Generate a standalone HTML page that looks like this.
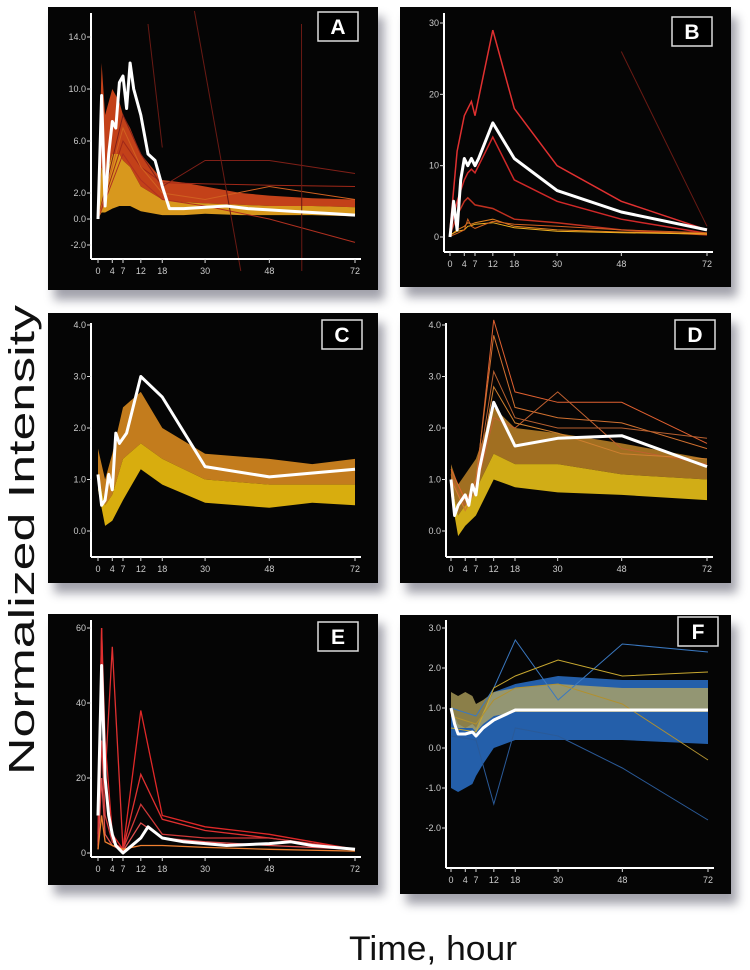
<!DOCTYPE html>
<html><head><meta charset="utf-8"><style>
html,body{margin:0;padding:0;background:#fff;}
svg{display:block;font-family:"Liberation Sans",sans-serif;}
</style></head><body>
<svg id="fig" width="750" height="970" viewBox="0 0 750 970">
<defs>
<filter id="sh" x="-10%" y="-10%" width="130%" height="130%"><feGaussianBlur stdDeviation="5"/></filter>
</defs>
<text x="0" y="0" transform="translate(34,540) rotate(-90)" text-anchor="middle" font-size="36" textLength="470" lengthAdjust="spacingAndGlyphs" fill="#111">Normalized Intensity</text>
<text x="433" y="960" text-anchor="middle" font-size="34" textLength="168" lengthAdjust="spacingAndGlyphs" fill="#111">Time, hour</text>
</svg>
<script>
// ---- shared ----
const tickTimes = [0,4,7,12,18,30,48,72];
// ---- Panel A data ----
const aTicks = [14,10,6,2,0,-2];
const aTickLabels = ["14.0","10.0","6.0","2.0","0.0","-2.0"];
const aBandT = [0,1,2,4,6,7,9,12,18,24,30,40,48,60,72];
const aUpper = [1,12,8,10,9,8,7,5,3,2.8,2.5,2,1.8,1.6,1.5];
const aMid = [0.5,4,3,5,5,4.5,4,2.5,1.5,1.3,1.2,1.1,1,1,0.9];
const aLower = [0,0.5,0.5,0.8,1,1,1,0.6,0.3,0.3,0.4,0.3,0.3,0.3,0.2];
const aMeanT = [0,1,2,3,4,5,6,7,8,9,10,12,14,16,18,20,24,30,36,42,48,54,60,66,72];
const aMean = [0,9.5,1,5,7.5,7,10.5,11,8.5,12,10,8,5,4.5,2.5,0.8,0.8,0.9,1.0,0.8,0.7,0.6,0.5,0.4,0.3];
const aLineT = [0,7,12,18,30,48,72];
const aLine1 = [0,6,4,2.8,2.7,2.6,2.5];
const aLine2 = [0,8,5,2.5,4.5,4.5,3.5];
const aLine3 = [0,5,3,1.5,1,0,-1.8];
const aLine4 = [0,7,4,2,1.5,2.5,1.5];
const aStrayT = [14,18];
const aStray1 = [15,5.5];
const aStrayT2 = [27,40];
const aStray2 = [16,-4];
const aStrayT3 = [57,57.1];
const aStray3 = [15,-4];
// ---- Panel B data ----
const bTicks = [30,20,10,0];
const bTickLabels = ["30","20","10","0"];
const bMeanT = [0,1,2,3,4,5,6,7,8,12,18,30,48,72];
const bMean = [0,5,1,8,11,10,11,10,11,16,11,6.5,3.5,1];
const bLineT = [0,2,4,5,6,7,12,18,30,48,72];
const bLine1 = [1,12,17,18,19,17,29,18,10,5,1];
const bLine2 = [0.5,5,8,9,9.5,9,14,8,5,2.5,0.5];
const bLine3 = [0.3,3,5,5.5,5,4.5,4,2.5,2,1,0.3];
const bLine4 = [0.2,1,1.5,2,1.8,2,2.5,1.5,1,0.7,0.5];
const bLine5 = [0.3,0.8,1,1.5,1.6,1.8,2,1.3,0.8,0.6,0.4];
const bLine6 = [0.1,0.5,1,2.5,1.5,1.2,2.2,1.8,1.5,1,0.6];
const bStrayT = [48,72];
const bStray = [26,1.5];
// ---- Panel C data ----
const cTicks = [4,3,2,1,0];
const cTickLabels = ["4.0","3.0","2.0","1.0","0.0"];
const cBandT = [0,2,4,7,12,18,30,48,60,72];
const cUpper = [1.6,1.0,1.5,2.4,2.7,2.0,1.5,1.4,1.3,1.4];
const cMid = [1.1,0.5,0.7,1.4,1.7,1.4,1.0,0.9,0.9,0.9];
const cLower = [0.8,0.1,0.2,0.6,1.2,0.9,0.55,0.45,0.55,0.5];
const cMeanT = [0,1,2,3,4,5,6,7,8,12,18,30,48,72];
const cMean = [1.1,0.5,0.6,1.1,0.8,1.9,1.7,1.8,1.9,3.0,2.6,1.25,1.05,1.2];
// ---- Panel D data ----
const dBandT = [0,2,4,7,12,18,30,48,72];
const dUpper = [1.3,0.9,1.1,1.4,2.4,2.0,1.9,1.7,1.4];
const dMid = [1.0,0.3,0.5,0.8,1.5,1.3,1.3,1.1,1.0];
const dLower = [0.7,-0.1,0.1,0.3,1.0,0.85,0.75,0.7,0.6];
const dMeanT = [0,1,2,4,5,6,7,8,12,18,30,48,72];
const dMean = [1,0.3,0.5,0.7,0.5,0.9,0.7,1.2,2.5,1.65,1.8,1.85,1.25];
const dLineT = [0,4,7,12,18,30,48,72];
const dLine1 = [1.2,0.6,0.9,4.1,2.7,2.5,2.5,1.7];
const dLine2 = [1.0,0.5,1.0,3.8,2.4,2.2,2.1,1.6];
const dLine3 = [1.1,0.4,0.8,2.2,2.0,2.7,1.6,1.3];
const dLine4 = [1.0,0.5,0.9,3.1,2.2,2.0,2.0,1.8];
const dLine5 = [1.0,0.4,0.8,2.8,2.1,1.9,1.5,1.4];
// ---- Panel E data ----
const eTicks = [60,40,20,0];
const eTickLabels = ["60","40","20","0"];
const eMeanT = [0,1,2,3,4,5,6,7,12,14,18,24,30,36,48,54,60,66,72];
const eMean = [10,50,20,10,5,2,1,0,4,7,4,3,2.5,2,2.5,3,2,1.5,1];
const eLineT = [0,1,2,4,7,12,18,30,48,72];
const eLine1 = [5,60,30,5,1,38,10,7,5,1];
const eLine2 = [3,60,20,55,1,21,9,6,4,1];
const eLine3 = [2,30,10,3,1,13,5,4,4,1];
const eLine4 = [1,20,5,2,0.5,8,4,3,2,1];
const eLine5 = [1,10,3,2,1,2,2,1.5,1,0.5];
// ---- Panel F data ----
const fTicks = [3,2,1,0,-1,-2];
const fTickLabels = ["3.0","2.0","1.0","0.0","-1.0","-2.0"];
const fBandT = [0,2,4,6,7,9,12,18,30,48,72];
const fYelUpper = [1.4,1.3,1.4,1.3,1.1,1.2,1.4,1.5,1.6,1.5,1.5];
const fYelLower = [0.8,0.5,0.5,0.5,0.4,0.6,0.8,0.9,0.9,0.9,0.9];
const fBlueUpper = [1.0,0.6,0.5,0.6,0.5,0.9,1.4,1.6,1.8,1.7,1.7];
const fBlueLower = [-1.0,-1.1,-1.0,-0.9,-0.7,-0.4,0.0,0.2,0.2,0.2,0.1];
const fMeanT = [0,1,2,4,6,7,9,12,18,30,48,72];
const fMean = [1,0.6,0.35,0.35,0.4,0.3,0.5,0.7,0.95,0.95,0.95,0.95];
const fLineT = [0,7,12,18,30,48,72];
const fLine1 = [1,0.8,1.5,2.7,1.2,2.6,2.4];
const fLine2 = [0.5,0.4,1.5,1.8,2.2,1.8,1.9];
const fLine3 = [0.3,0.2,-1.4,0.5,0.3,-0.5,-1.8];
const fLine4 = [0.8,0.6,1.2,1.5,1.6,1.1,-0.3];

const NS = "http://www.w3.org/2000/svg";
const svg = document.getElementById('fig');
function mk(tag, attrs, parent){const e=document.createElementNS(NS,tag);for(const k in attrs)e.setAttribute(k,attrs[k]);parent.appendChild(e);return e;}

function panel(cfg){
  const g = mk('g',{},svg);
  
  
  const sh = mk('rect',{x:cfg.bx+6,y:cfg.by+10,width:cfg.bw,height:cfg.bh,fill:'#556',opacity:0.55,filter:'url(#sh)'},g);
  
  
  const bg = mk('rect',{x:cfg.bx,y:cfg.by,width:cfg.bw,height:cfg.bh,fill:'#050505'},g);
  
  
  const X = t => cfg.x0 + (cfg.x72 - cfg.x0) * t / 72;
  const Y = v => cfg.yA + (v - cfg.vA) * (cfg.yB - cfg.yA) / (cfg.vB - cfg.vA);
  const pts = (T,V) => T.map((t,i)=>X(t).toFixed(1)+','+Y(V[i]).toFixed(1)).join(' ');
  const clip = 'clip'+cfg.id;
  const cp = mk('clipPath',{id:clip},g);
  mk('rect',{x:cfg.bx,y:cfg.by,width:cfg.bw,height:cfg.bh},cp);
  const dg = mk('g',{'clip-path':'url(#'+clip+')'},g);
  (cfg.bands||[]).forEach(b=>{
    const p = pts(b.t,b.hi)+' '+b.t.slice().reverse().map((t,i)=>{const j=b.t.length-1-i;return X(t).toFixed(1)+','+Y(b.lo[j]).toFixed(1);}).join(' ');
    const el = mk('polygon',{points:p,fill:b.color,opacity:b.op||0.9},dg);
    
    
  });
  (cfg.lines||[]).forEach(l=>{
    const el = mk('polyline',{points:pts(l.t,l.v),fill:'none',stroke:l.color,'stroke-width':l.w||1,opacity:l.op||1},dg);
    
    
  });
  const m = mk('polyline',{points:pts(cfg.meanT,cfg.mean),fill:'none',stroke:'#fff','stroke-width':3,'stroke-linejoin':'round'},dg);
  
  
  const ya = mk('line',{x1:cfg.ax,y1:cfg.ayTop,x2:cfg.ax,y2:cfg.axY,stroke:'#fff','stroke-width':2},g);
  
  
  const xa = mk('line',{x1:cfg.ax,y1:cfg.axY,x2:cfg.x72+6,y2:cfg.axY,stroke:'#fff','stroke-width':2},g);
  
  
  cfg.ticks.forEach((v,i)=>{
    mk('line',{x1:cfg.ax-4,y1:Y(v),x2:cfg.ax,y2:Y(v),stroke:'#ddd','stroke-width':1},g);
    const t = mk('text',{x:cfg.ax-5,y:Y(v)+3,'text-anchor':'end','font-size':9,fill:'#ccc'},g);
    t.textContent = cfg.tickLabels[i];
    
    
  });
  tickTimes.forEach(tt=>{
    mk('line',{x1:X(tt),y1:cfg.axY,x2:X(tt),y2:cfg.axY+4,stroke:'#ddd','stroke-width':1},g);
    const t = mk('text',{x:X(tt),y:cfg.axY+15,'text-anchor':'middle','font-size':9,fill:'#ccc'},g);
    t.textContent = tt;
    
    
  });
  const lb = mk('rect',{x:cfg.lx,y:cfg.ly,width:40,height:29,fill:'#000',stroke:'#ddd','stroke-width':1.5},g);
  
  
  const lt = mk('text',{x:cfg.lx+20,y:cfg.ly+22,'text-anchor':'middle','font-size':21,'font-weight':'bold',fill:'#fff'},g);
  lt.textContent = cfg.id;
  
  
}

panel({id:'A',bx:48,by:7,bw:330,bh:283,x0:98,x72:355,ax:91,ayTop:13,axY:259,vA:0,yA:219,vB:14,yB:37,
  ticks:aTicks,tickLabels:aTickLabels,lx:318,ly:12,meanT:aMeanT,mean:aMean,
  bands:[{t:aBandT,hi:aUpper,lo:aMid,color:'#d8481c'},{t:aBandT,hi:aMid,lo:aLower,color:'#f0a820'}],
  lines:[{t:aLineT,v:aLine1,color:'#a02818'},{t:aLineT,v:aLine2,color:'#802018'},{t:aLineT,v:aLine3,color:'#b03020'},{t:aLineT,v:aLine4,color:'#d06020'},
    {t:aStrayT,v:aStray1,color:'#6a1a14'},{t:aStrayT2,v:aStray2,color:'#6a1a14'},{t:aStrayT3,v:aStray3,color:'#6a1a14'}]});
panel({id:'B',bx:400,by:7,bw:331,bh:280,x0:450,x72:707,ax:444,ayTop:13,axY:252,vA:0,yA:237,vB:30,yB:23,
  ticks:bTicks,tickLabels:bTickLabels,lx:672,ly:17,meanT:bMeanT,mean:bMean,
  lines:[{t:bLineT,v:bLine1,color:'#e03030',w:1.5},{t:bLineT,v:bLine2,color:'#d02828',w:1.5},{t:bLineT,v:bLine3,color:'#c03020',w:1.5},{t:bLineT,v:bLine4,color:'#e08020'},{t:bLineT,v:bLine5,color:'#f0b020'},{t:bLineT,v:bLine6,color:'#d06020'},{t:bStrayT,v:bStray,color:'#6a1a14'}]});
panel({id:'C',bx:48,by:313,bw:330,bh:270,x0:98,x72:355,ax:91,ayTop:323,axY:557,vA:0,yA:531,vB:4,yB:325,
  ticks:cTicks,tickLabels:cTickLabels,lx:322,ly:320,meanT:cMeanT,mean:cMean,
  bands:[{t:cBandT,hi:cUpper,lo:cMid,color:'#d88a20'},{t:cBandT,hi:cMid,lo:cLower,color:'#f0c010'}]});
panel({id:'D',bx:400,by:313,bw:331,bh:270,x0:451,x72:707,ax:446,ayTop:323,axY:557,vA:0,yA:531,vB:4,yB:325,
  ticks:cTicks,tickLabels:cTickLabels,lx:675,ly:320,meanT:dMeanT,mean:dMean,
  bands:[{t:dBandT,hi:dUpper,lo:dMid,color:'#c88a28',op:0.8},{t:dBandT,hi:dMid,lo:dLower,color:'#e8c018'}],
  lines:[{t:dLineT,v:dLine1,color:'#e06030'},{t:dLineT,v:dLine2,color:'#d07030'},{t:dLineT,v:dLine3,color:'#c06030'},{t:dLineT,v:dLine4,color:'#b86030'},{t:dLineT,v:dLine5,color:'#d08030'}]});
panel({id:'E',bx:48,by:614,bw:330,bh:271,x0:98,x72:355,ax:91,ayTop:620,axY:857,vA:0,yA:853,vB:60,yB:628,
  ticks:eTicks,tickLabels:eTickLabels,lx:318,ly:622,meanT:eMeanT,mean:eMean,
  lines:[{t:eLineT,v:eLine1,color:'#e02828',w:1.3},{t:eLineT,v:eLine2,color:'#e03030',w:1.3},{t:eLineT,v:eLine3,color:'#d03838',w:1.3},{t:eLineT,v:eLine4,color:'#e05050',w:1.3},{t:eLineT,v:eLine5,color:'#f08030',w:1.3}]});
panel({id:'F',bx:400,by:615,bw:331,bh:279,x0:451,x72:708,ax:446,ayTop:620,axY:868,vA:0,yA:748,vB:3,yB:628,
  ticks:fTicks,tickLabels:fTickLabels,lx:678,ly:617,meanT:fMeanT,mean:fMean,
  bands:[{t:fBandT,hi:fBlueUpper,lo:fBlueLower,color:'#2a70c8',op:0.85},{t:fBandT,hi:fYelUpper,lo:fYelLower,color:'#b8a860',op:0.75}],
  lines:[{t:fLineT,v:fLine1,color:'#3a78c0'},{t:fLineT,v:fLine2,color:'#c8a830'},{t:fLineT,v:fLine3,color:'#2a5a98'},{t:fLineT,v:fLine4,color:'#b09030'}]});
</script>
</body></html>
